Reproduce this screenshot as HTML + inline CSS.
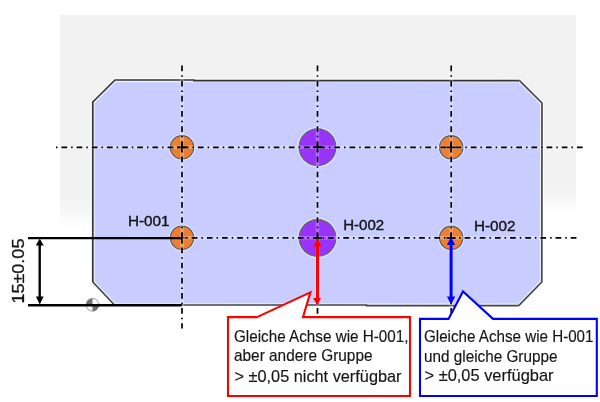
<!DOCTYPE html>
<html><head><meta charset="utf-8">
<style>
html,body{margin:0;padding:0;background:#fff;width:600px;height:402px;overflow:hidden}
svg{display:block;will-change:transform}
text{font-family:"Liberation Sans",sans-serif;fill:#141414}
</style></head><body>
<svg width="600" height="402" viewBox="0 0 600 402">
<defs>
<linearGradient id="fadeL" x1="0" y1="0" x2="0" y2="1">
<stop offset="0" stop-color="#f2f2f2"/>
<stop offset="0.3" stop-color="#f2f2f2"/>
<stop offset="0.55" stop-color="#f6f6f6"/>
<stop offset="0.75" stop-color="#fbfbfb"/>
<stop offset="1" stop-color="#fff"/>
</linearGradient>
<linearGradient id="fadeR" x1="0" y1="0" x2="0" y2="1">
<stop offset="0" stop-color="#f2f2f2"/>
<stop offset="0.1" stop-color="#f2f2f2"/>
<stop offset="0.45" stop-color="#f6f6f6"/>
<stop offset="0.75" stop-color="#fcfcfc"/>
<stop offset="1" stop-color="#fff"/>
</linearGradient>
</defs>
<!-- gray background -->
<rect x="60" y="15" width="516" height="171" fill="#f2f2f2"/>
<rect x="60" y="185" width="40" height="45" fill="url(#fadeL)"/>
<rect x="530" y="185" width="46" height="30" fill="url(#fadeR)"/>
<!-- plate -->
<polygon points="115,80 519.5,80.6 542,103 541.8,282 518.7,305.6 114.5,305 92.8,282 92.8,102" fill="#c8ccff" stroke="#fff" stroke-opacity="0.7" stroke-width="4"/>
<g fill="none" stroke-width="1.7" stroke-linejoin="miter">
<path d="M92.8,282 V102 L115,80 H194 V80.6 H519.5" stroke="#333"/>
<path d="M519.5,80.6 L542,103 L541.8,282 L518.7,305.6" stroke="#484848"/>
<path d="M518.7,305.6 H366.5 V305 H114.5 L92.8,282" stroke="#444"/>
</g>

<!-- datum symbol -->
<g>
<circle cx="92.5" cy="304.8" r="6.4" fill="#fff" stroke="#a0a0a0" stroke-width="1"/>
<path d="M92.5,304.8 V298.4 A6.4,6.4 0 0 0 86.1,304.8 Z" fill="#707070"/>
<path d="M92.5,304.8 V311.2 A6.4,6.4 0 0 0 98.9,304.8 Z" fill="#707070"/>
</g>

<!-- holes -->
<g stroke="#fff" stroke-opacity="0.45" stroke-width="3" fill="none">
<circle cx="182" cy="147.3" r="11.9"/>
<circle cx="451.2" cy="147.3" r="11.9"/>
<circle cx="182" cy="237.8" r="11.9"/>
<circle cx="451.2" cy="237.8" r="11.9"/>
<circle cx="317.5" cy="147.2" r="18.6"/>
<circle cx="317.5" cy="238" r="18.6"/>
</g>
<g stroke="#4a5868" stroke-width="1.1">
<circle cx="182" cy="147.3" r="11.7" fill="#ec7f30"/>
<circle cx="451.2" cy="147.3" r="11.7" fill="#ec7f30"/>
<circle cx="182" cy="237.8" r="11.7" fill="#ec7f30"/>
<circle cx="451.2" cy="237.8" r="11.7" fill="#ec7f30"/>
<circle cx="317.5" cy="147.2" r="18.4" fill="#9833fc" stroke="#5a6a5a"/>
<circle cx="317.5" cy="238" r="18.4" fill="#9833fc" stroke="#5a6a5a"/>
</g>

<!-- line halos -->
<g stroke="#fff" stroke-opacity="0.25" stroke-width="3.6" fill="none">
<path d="M56,147.3 H583"/>
<path d="M182,237.8 H577"/>
<path d="M182,65.55 V328.5"/>
<path d="M317.5,65.55 V328.5"/>
<path d="M451.2,65.55 V328.5"/>
</g>
<!-- centre lines -->
<g stroke="#000" stroke-width="1.7" fill="none">
<path d="M56,147.3 H583" stroke-dasharray="1.5 3.98 5.7 3.98"/>
<path d="M182,237.8 H577" stroke-dasharray="5.7 3.98 1.5 3.98" stroke-dashoffset="5.43"/>
<path d="M182,65.55 V328.5" stroke-dasharray="5.7 3.98 1.5 3.98"/>
<path d="M317.5,65.55 V328.5" stroke-dasharray="5.7 3.98 1.5 3.98"/>
<path d="M451.2,65.55 V328.5" stroke-dasharray="5.7 3.98 1.5 3.98"/>
<!-- crosses -->
<path d="M177.3,147.3 H186.3 M181.8,142.6 V151.8"/>
<path d="M446.6,147.3 H455.6 M451.1,142.6 V151.8"/>
<path d="M313,147.2 H322 M317.5,142.6 V151.8"/>
<path d="M181.9,233.2 V242.4"/><path d="M182,237.8 H187" stroke-width="1.2" stroke="#333"/>
<path d="M446.6,237.8 H455.6 M451.1,233.2 V242.4"/>
<path d="M313,238 H322 M317.5,233.4 V242.6"/>
</g>

<!-- dimension -->
<g stroke="#000" stroke-width="2.4" fill="none">
<path d="M28,238.1 H181.8"/>
<path d="M28,305.2 H181.8"/>
<path d="M39.7,244 V298"/>
</g>
<polygon points="39.7,238.5 35.8,245.5 43.7,245.5" fill="#000"/>
<polygon points="39.8,304.5 35.9,296.5 43.6,296.5" fill="#000"/>
<text transform="translate(23.6,303.6) rotate(-90)" font-size="17.3" stroke="#141414" stroke-width="0.3" textLength="65" lengthAdjust="spacingAndGlyphs">15±0.05</text>

<path d="M22.8,296.2 V301.7" stroke="#141414" stroke-width="1.7"/>
<!-- labels -->
<text x="128" y="226.4" font-size="15.5" stroke="#141414" stroke-width="0.4" textLength="41.6" lengthAdjust="spacingAndGlyphs">H-001</text>
<text x="343.2" y="229.8" font-size="15.5" stroke="#141414" stroke-width="0.4" textLength="41" lengthAdjust="spacingAndGlyphs">H-002</text>
<text x="474" y="230.5" font-size="15.5" stroke="#141414" stroke-width="0.4" textLength="41.6" lengthAdjust="spacingAndGlyphs">H-002</text>

<!-- red arrow -->
<g fill="#ff0000">
<rect x="316" y="245" width="3" height="54"/>
<polygon points="317.5,238 313.5,246.5 321.5,246.5"/>
<polygon points="317.3,305.5 313,298 321,298"/>
</g>
<!-- blue arrow -->
<g fill="#0000ff">
<rect x="449.6" y="244" width="3" height="53.5"/>
<polygon points="451,237 446.8,245 455.1,245"/>
<polygon points="451.1,304.6 446.9,296.6 455.2,296.6"/>
</g>

<!-- red callout -->
<path d="M257,317.1 L310.4,292.4 L303,317.1 H410 V396 H228 V317.1 Z" fill="#fff" stroke="#ff0000" stroke-width="2.1" stroke-linejoin="miter"/>
<!-- blue callout -->
<path d="M448.5,318.9 L463,291.5 L493,318.9 H596.8 V396 H420 V318.9 Z" fill="#fff" stroke="#0000ff" stroke-width="2.1" stroke-linejoin="miter"/>

<g font-size="16.4" stroke="#141414" stroke-width="0.15">
<text x="234" y="341.5" textLength="174.5" lengthAdjust="spacingAndGlyphs">Gleiche Achse wie H-001,</text>
<text x="234" y="361.3" textLength="138.5" lengthAdjust="spacingAndGlyphs">aber andere Gruppe</text>
<text x="234.5" y="381.5" textLength="167" lengthAdjust="spacingAndGlyphs">&gt; ±0,05 nicht verfügbar</text>
<text x="424" y="341.5" textLength="169.5" lengthAdjust="spacingAndGlyphs">Gleiche Achse wie H-001</text>
<text x="424" y="361.6" textLength="133.5" lengthAdjust="spacingAndGlyphs">und gleiche Gruppe</text>
<text x="424.5" y="381" textLength="129" lengthAdjust="spacingAndGlyphs">&gt; ±0,05 verfügbar</text>
</g>
</svg>
</body></html>
